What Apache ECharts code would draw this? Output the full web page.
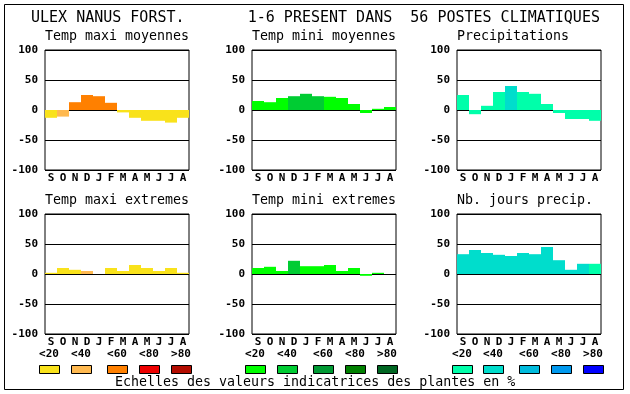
<!DOCTYPE html>
<html><head><meta charset="utf-8">
<script src="https://cdn.jsdelivr.net/npm/echarts@6/dist/echarts.min.js"></script>
<style>html,body{margin:0;padding:0;background:#fff}#c{width:630px;height:394px}</style>
</head><body><div id="c"></div>
<script>
var months = ['S','O','N','D','J','F','M','A','M','J','J','A'];
var yTicks = [-100, -50, 0, 50, 100];
var legendLabels = ['<20','<40','<60','<80','>80'];

var titleText = 'ULEX NANUS FORST.       1-6 PRESENT DANS  56 POSTES CLIMATIQUES';
var footerText = 'Echelles des valeurs indicatrices des plantes en %';
var panelTitles = ['Temp maxi moyennes','Temp mini moyennes','Precipitations','Temp maxi extremes','Temp mini extremes','Nb. jours precip.'];

var warmColors = ['#f9e21b','#ffb950','#ff8000','#ee0000','#b30c00'];
var greenColors = ['#00ff00','#00cc33','#009933','#008000','#006622'];
var blueColors = ['#00ffaa','#00ddcc','#00bbdd','#0099ee','#0000ff'];

var tmaxMoy = [-13, -11, 13, 25, 23, 12, -4, -13, -18, -18, -21, -13];
var tmaxMoyCls = [0,1,2,2,2,2,0,0,0,0,0,0];
var tminMoy = [15, 13, 20, 23, 27, 23, 22, 20, 10, -5, 2, 5];
var tminMoyCls = [0,0,0,1,1,1,0,0,0,0,0,0];
var precip = [25, -7, 7, 30, 40, 30, 27, 10, -5, -15, -15, -18];
var precipCls = [0,0,0,0,1,0,0,0,0,0,0,0];
var tmaxExt = [2, 10, 7, 5, 0, 10, 5, 15, 10, 5, 10, 2];
var tmaxExtCls = [0,0,0,1,0,0,0,0,0,0,0,0];
var tminExt = [10, 12, 5, 22, 13, 13, 15, 5, 10, -3, 2, 0];
var tminExtCls = [0,0,0,1,0,0,0,0,0,0,0,0];
var nbJours = [33, 40, 35, 32, 30, 35, 33, 45, 23, 7, 17, 17];
var nbJoursCls = [1,1,1,1,1,1,1,1,1,1,1,0];

var panels = [
  {v: tmaxMoy, c: tmaxMoyCls, pal: warmColors},
  {v: tminMoy, c: tminMoyCls, pal: greenColors},
  {v: precip, c: precipCls, pal: blueColors},
  {v: tmaxExt, c: tmaxExtCls, pal: warmColors},
  {v: tminExt, c: tminExtCls, pal: greenColors},
  {v: nbJours, c: nbJoursCls, pal: blueColors}
];
var palettes = [warmColors, greenColors, blueColors];

var MONO = '"DejaVu Sans Mono", monospace';
var colLeft = [45, 252, 457];
var rowTop = [50, 214];
var PW = 144, PH = 120;

var grids = [], xAxes = [], yAxes = [], series = [], graphics = [];
panels.forEach(function (p, i) {
  var col = i % 3, row = Math.floor(i / 3);
  grids.push({left: colLeft[col], top: rowTop[row], width: PW, height: PH,
    show: true, borderColor: '#000', borderWidth: 1, backgroundColor: 'transparent'});
  xAxes.push({type: 'category', gridIndex: i, data: months,
    axisLine: {show: false}, axisTick: {show: false}, splitLine: {show: false},
    axisLabel: {interval: 0, margin: 3, color: '#000', fontFamily: MONO, fontWeight: 'bold', fontSize: 11}});
  yAxes.push({type: 'value', gridIndex: i, min: yTicks[0], max: yTicks[yTicks.length-1], interval: 50,
    axisLine: {show: false}, axisTick: {show: false},
    splitLine: {show: true, lineStyle: {color: '#000', width: 1}},
    axisLabel: {margin: 7, color: '#000', fontFamily: MONO, fontWeight: 'bold', fontSize: 11}});
  series.push({type: 'bar', xAxisIndex: i, yAxisIndex: i, barCategoryGap: '0%', barGap: '0%',
    z: 1,
    data: p.v.map(function (val, k) { return {value: val, itemStyle: {color: p.pal[p.c[k]]}}; })});
  graphics.push({type: 'text', left: colLeft[col], top: (row === 0 ? 38 : 202) - 8,
    style: {text: panelTitles[i], font: '13.3px ' + MONO, fill: '#000'}});
});

// title
graphics.push({type: 'text', x: 31, y: 18, style: {text: titleText, font: '15px ' + MONO, fill: '#000', verticalAlign: 'middle'}});
// footer
graphics.push({type: 'text', x: 115, y: 383, style: {text: footerText, font: '13.3px ' + MONO, fill: '#000', verticalAlign: 'middle'}});
// outer frame
graphics.push({type: 'rect', shape: {x: 4.5, y: 4.5, width: 619, height: 385}, style: {fill: 'none', stroke: '#000', lineWidth: 1}});
// legends
var legendX = [[39, 71, 107, 139, 171], [245, 277, 313, 345, 377], [452, 483, 519, 551, 583]];
legendX.forEach(function (xs, g) {
  xs.forEach(function (x, k) {
    graphics.push({type: 'rect', shape: {x: x + 0.5, y: 365.5, width: 20, height: 8},
      style: {fill: palettes[g][k], stroke: '#000', lineWidth: 1}});
    graphics.push({type: 'text', x: x + 10, y: 354,
      style: {text: legendLabels[k], font: 'bold 11px ' + MONO, fill: '#000', align: 'center', verticalAlign: 'middle'}});
  });
});

var chart = echarts.init(document.getElementById('c'), null, {renderer: 'canvas'});
chart.setOption({
  animation: false,
  backgroundColor: '#fff',
  grid: grids, xAxis: xAxes, yAxis: yAxes, series: series,
  graphic: graphics
});
</script></body></html>
